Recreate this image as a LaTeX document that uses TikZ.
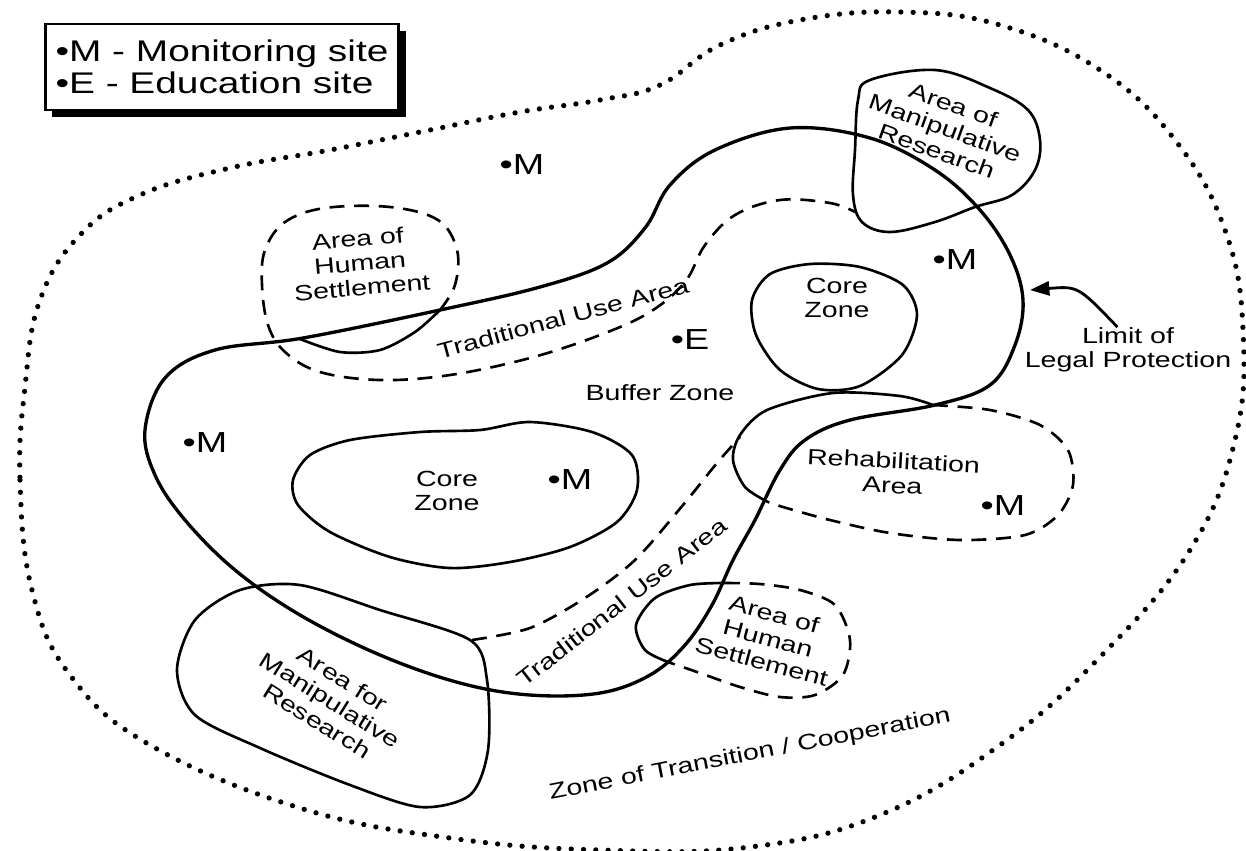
\documentclass[tikz,border=0pt]{standalone}
\usepackage{fontspec}
\setmainfont{Liberation Sans}[FakeStretch=1.3]
\usetikzlibrary{arrows.meta,shadows}

\begin{document}
\begin{tikzpicture}[
  x=0.02cm,y=-0.02cm,
  lbl/.style={align=center,inner sep=0pt,font=\fontsize{12.5}{14}\selectfont},
  site/.style={inner sep=0pt,font=\fontsize{16.5}{18}\selectfont},
  key/.style={draw,fill=white,line width=1.3pt,align=left,inner sep=0pt,
    minimum width=201pt,minimum height=49pt,font=\fontsize{17}{18.5}\selectfont,
    drop shadow={shadow xshift=4pt,shadow yshift=-4pt,fill=black,opacity=1}},
  zone/.style={line width=1.5pt},
  limitline/.style={line width=1.9pt},
  part/.style={line width=1.5pt,dash pattern=on 8.5pt off 5.5pt},
  outer/.style={line width=3pt,line cap=round,dash pattern=on 0pt off 7pt},
  arr/.style={-{Triangle[length=11pt,width=8pt]},line width=1.6pt}
]
  \useasboundingbox (0,0) rectangle (1246,850);

  \draw[outer] plot[smooth cycle,tension=0.7] coordinates {
    (25,387) (20,480) (32,590) (70,675) (150,745) (300,808) (450,838)
    (600,850) (750,847) (880,815) (1000,745) (1100,657) (1190,550)
    (1235,440) (1243,330) (1225,230) (1175,140) (1100,70) (1000,25)
    (900,12) (800,20) (720,45) (660,85) (600,100) (520,112) (430,130)
    (330,150) (230,168) (140,195) (80,235) (40,300)};

  \draw[limitline] plot[smooth cycle,tension=0.6] coordinates {
    (145,430) (165,378) (215,350) (303,338) (440,310) (540,287) (607,263)
    (645,228) (670,185) (715,150) (790,128) (870,138) (935,170) (980,210)
    (1010,255) (1023,300) (1015,345) (990,385) (935,405) (850,420)
    (805,440) (780,470) (755,520) (733,560) (712,605) (685,645) (650,675)
    (600,693) (530,695) (460,683) (380,655) (300,615) (235,570) (185,520)
    (155,475)};

  % core zones
  \draw[zone] plot[smooth cycle] coordinates {
    (752,300) (770,274) (810,264) (860,267) (903,285) (917,315) (902,355)
    (860,386) (818,389) (780,370) (756,335)};
  \draw[zone] plot[smooth cycle] coordinates {
    (293,480) (310,455) (350,440) (420,432) (480,430) (530,422) (592,432)
    (632,455) (637,490) (617,522) (570,547) (510,562) (450,568) (390,557)
    (330,532) (298,505)};

  % manipulative research
  \draw[zone] plot[smooth cycle,tension=0.6] coordinates {
    (870,80) (935,70) (990,88) (1028,110) (1040,140) (1035,170) (1012,195)
    (975,207) (935,222) (890,232) (862,222) (853,195) (855,150) (858,100)};
  \draw[zone] plot[smooth cycle,tension=0.5] coordinates {
    (240,590) (300,585) (380,610) (470,640) (487,680) (488,750) (470,795)
    (420,807) (350,785) (260,748) (195,715) (177,670) (195,620)};

  % settlement, traditional use, rehabilitation
  \draw[part] plot[smooth,tension=0.6] coordinates {
    (440,310) (455,285) (457,250) (438,220) (390,207) (325,208) (285,222)
    (265,250) (262,285) (268,325) (285,352) (320,372) (380,380) (450,375)
    (530,358) (600,335) (650,312) (685,282) (705,245) (735,215) (780,200)
    (830,203) (855,212)};
  \draw[zone] plot[smooth] coordinates {
    (300,339) (340,352) (380,350) (415,332) (440,310)};
  \draw[part] plot[smooth] coordinates {
    (472,640) (530,628) (585,598) (635,560) (683,505) (717,463) (740,437)};
  \draw[part] plot[smooth] coordinates {
    (725,583) (760,584) (800,590) (835,605) (850,640) (843,675) (815,695)
    (780,697) (740,687) (700,673) (668,662)};
  \draw[zone] plot[smooth] coordinates {
    (725,583) (690,585) (655,598) (636,625) (645,650) (668,662)};
  \draw[part] plot[smooth] coordinates {
    (933,405) (990,410) (1040,425) (1068,450) (1073,485) (1058,515)
    (1025,535) (960,540) (890,533) (830,520) (783,507) (768,502)};
  \draw[zone] plot[smooth] coordinates {
    (768,502) (745,487) (733,460) (740,435) (767,410) (833,393) (900,396)
    (933,405)};

  % legend
  \node[key] (key) at (222,67) {•M - Monitoring site\\•E - Education site};

  % labels
  \node[lbl,rotate=5] (hs1) at (360,263) {Area of\\Human\\Settlement};
  \node[lbl,rotate=15] (tu1) at (563,318) {Traditional Use Area};
  \node[lbl] (cz1) at (837,298) {Core\\Zone};
  \node[lbl] (buf) at (660,393) {Buffer Zone};
  \node[lbl] (cz2) at (447,491) {Core\\Zone};
  \node[lbl,rotate=-3] (reh) at (893,473) {Rehabilitation\\Area};
  \node[lbl,rotate=38] (tu2) at (622,602) {Traditional Use Area};
  \node[lbl,rotate=-15] (hs2) at (768,638) {Area of\\Human\\Settlement};
  \node[lbl,rotate=-32] (mr2) at (330,700) {Area for\\Manipulative\\Research};
  \node[lbl,rotate=-20] (mr1) at (945,128) {Area of\\Manipulative\\Research};
  \node[lbl,rotate=11] (zt) at (750,755) {Zone of Transition / Cooperation};
  \node[lbl] (lim) at (1128,350) {Limit of\\Legal Protection};

  % sites
  \node[site] (m1) at (522,165) {•M};
  \node[site] (m2) at (955,260) {•M};
  \node[site] (e1) at (690,340) {•E};
  \node[site] (m3) at (205,443) {•M};
  \node[site] (m4) at (570,480) {•M};
  \node[site] (m5) at (1003,506) {•M};

  \coordinate (limtip) at (1030,290);
  \draw[arr] ([xshift=-6pt]lim.north) .. controls (1078,286) .. (limtip);
\end{tikzpicture}
\end{document}
